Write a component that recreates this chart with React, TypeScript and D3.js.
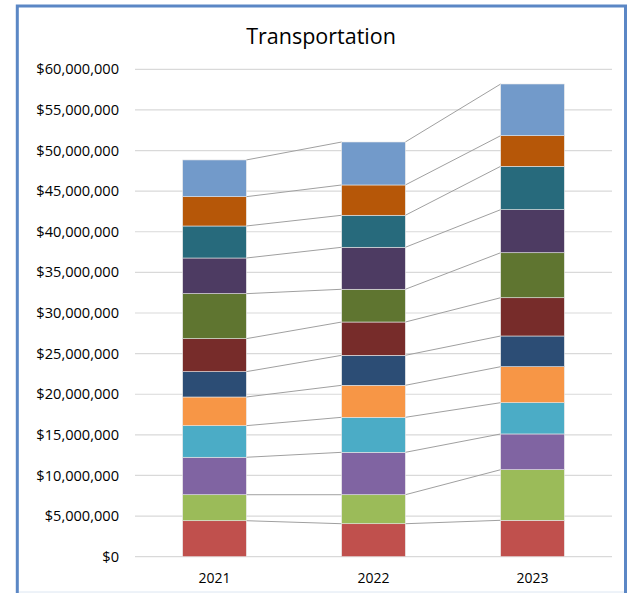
import React from "react";
import * as d3 from "d3";

const years = ["2021", "2022", "2023"];
// series bottom-to-top, values in millions of dollars
const seriesNames = ["S1", "S2", "S3", "S4", "S5", "S6", "S7", "S8", "S9", "S10", "S11", "S12"];
const s1 = [4.43, 4.06, 4.48];
const s2 = [3.2, 3.57, 6.23];
const s3 = [4.61, 5.22, 4.4];
const s4 = [3.89, 4.31, 3.85];
const s5 = [3.53, 3.94, 4.43];
const s6 = [3.12, 3.69, 3.78];
const s7 = [4.06, 4.1, 4.71];
const s8 = [5.54, 4.03, 5.54];
const s9 = [4.39, 5.17, 5.3];
const s10 = [3.94, 3.94, 5.34];
const s11 = [3.61, 3.73, 3.77];
const s12 = [4.52, 5.29, 6.36];
const seriesValues = [s1, s2, s3, s4, s5, s6, s7, s8, s9, s10, s11, s12];
const colors = [
  "#C0504D", "#9BBB59", "#8064A2", "#4BACC6", "#F79646", "#2C4D75",
  "#772C2A", "#5F7530", "#4D3B62", "#276A7C", "#B65708", "#729ACA",
];
const yTicks = [0, 5, 10, 15, 20, 25, 30, 35, 40, 45, 50, 55, 60];
const title = "Transportation";

const W = 635;
const H = 593;
const plotLeft = 135;
const plotRight = 612;
const plotTop = 69.3;
const plotBottom = 556.7;
const font = "'Open Sans', 'Noto Sans', sans-serif";

export default function App() {
  const x = d3
    .scaleBand<string>()
    .domain(years)
    .range([plotLeft, plotRight])
    .paddingInner(0.6)
    .paddingOuter(0.3);
  const y = d3.scaleLinear().domain([0, 60]).range([plotBottom, plotTop]);
  const fmt = d3.format("$,");

  const table = years.map((yr, i) => {
    const row: Record<string, number | string> = { year: yr };
    seriesNames.forEach((n, k) => (row[n] = seriesValues[k][i]));
    return row;
  });
  const stacked = d3.stack<any>().keys(seriesNames)(table as any);
  const bw = x.bandwidth();

  return (
    <svg
      width={W}
      height={H}
      style={{ position: "absolute", left: 0, top: 0, background: "#fff" }}
    >
      <rect x={0} y={0} width={W} height={H} fill="#fff" />
      <rect
        x={17.3}
        y={6}
        width={608.2}
        height={700}
        fill="#fff"
        stroke="#5B87C5"
        strokeWidth={3}
      />
      <line x1={19} x2={624} y1={592} y2={592} stroke="#DCE6F2" strokeWidth={1} />
      <text
        x={321}
        y={43.5}
        textAnchor="middle"
        fontFamily={font}
        fontSize={21.5}
        fill="#000"
      >
        {title}
      </text>
      {yTicks.map((t) => (
        <g key={t}>
          <line
            x1={plotLeft}
            x2={plotRight}
            y1={y(t)}
            y2={y(t)}
            stroke="#D9D9D9"
            strokeWidth={1.2}
          />
          <text
            x={119}
            y={y(t)}
            dy="0.35em"
            textAnchor="end"
            fontFamily={font}
            fontSize={14.6}
            fill="#000"
          >
            {fmt(t * 1000000)}
          </text>
        </g>
      ))}
      {stacked.map((layer, k) => (
        <g key={k}>
          {layer.slice(0, -1).map((d, i) => {
            const next = layer[i + 1];
            return (
              <line
                key={"l" + i}
                x1={(x(years[i]) as number) + bw}
                x2={x(years[i + 1]) as number}
                y1={y(d[1])}
                y2={y(next[1])}
                stroke="#A0A0A0"
                strokeWidth={1}
              />
            );
          })}
        </g>
      ))}
      {stacked.map((layer, k) => (
        <g key={"b" + k}>
          {layer.map((d, i) => (
            <rect
              key={i}
              x={x(years[i]) as number}
              y={y(d[1])}
              width={bw}
              height={y(d[0]) - y(d[1])}
              fill={colors[k]}
              stroke="#E6E6E6"
              strokeWidth={0.6}
            />
          ))}
        </g>
      ))}
      {years.map((yr) => (
        <text
          key={yr}
          x={(x(yr) as number) + bw / 2}
          y={578}
          dy="0.35em"
          textAnchor="middle"
          fontFamily={font}
          fontSize={14}
          fill="#000"
        >
          {yr}
        </text>
      ))}
    </svg>
  );
}
